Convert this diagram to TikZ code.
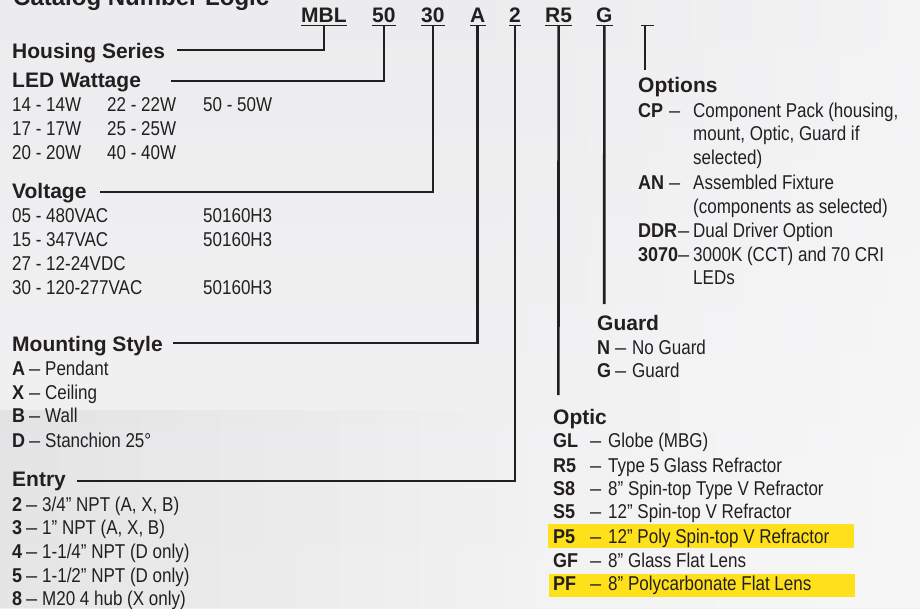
\documentclass[tikz,border=0pt]{standalone}
\usepackage{fontspec}
\usetikzlibrary{fadings}
\setmainfont{Liberation Sans}
\newfontfamily\bodyfont[FakeStretch=0.85]{Liberation Sans}
\newfontfamily\codefont[FakeStretch=0.9]{Liberation Sans}
\definecolor{ink}{HTML}{231F20}
\definecolor{hl}{HTML}{FFE11B}
\definecolor{bgtop}{HTML}{ECECEE}
\definecolor{bgbot}{HTML}{F3F2F3}
\newcommand\cdx[1]{{\codefont\bfseries\fontsize{20}{20}\selectfont #1}}
\newcommand\dsh{{\normalfont\fontsize{20}{20}\selectfont –}}
\newcommand\erow[4]{\makebox[#1][l]{\cdx{#3}}\makebox[#2][l]{\dsh}#4}
\begin{document}
\begin{tikzpicture}[x=1pt,y=-1pt,
  every node/.style={inner sep=0pt, anchor=base west, text=ink},
  hdr/.style={font=\fontsize{21}{21}\selectfont\bfseries},
  ttl/.style={font=\fontsize{24}{24}\selectfont\bfseries},
  body/.style={font=\bodyfont\fontsize{20}{20}\selectfont},
  code/.style={font=\fontsize{21}{21}\selectfont\bfseries},
  conn/.style={draw=ink, line width=2.6pt},
  uline/.style={draw=ink, line width=1.6pt},
  thinline/.style={draw=ink, line width=1.7pt},
  hlbox/.style={fill=hl, draw=none}]
\useasboundingbox (0,0) rectangle (920,608);
% background
\shade[top color=bgtop, bottom color=bgbot] (0,0) rectangle (920,608);
\fill[white, opacity=0.4, path fading=west] (440,0) rectangle (920,608);
\fill[black, opacity=0.05, path fading=east] (0,410) rectangle (520,608);
% highlights
\fill[hlbox] (548,524) rectangle (854,548);
\fill[hlbox] (549,574) rectangle (855,597);
% title
\node[ttl] (title) at (13,5) {Catalog Number Logic};
% codes
\node[code] (mbl) at (301,22.5) {MBL};
\node[code] (w50) at (372,22.5) {50};
\node[code] (v30) at (421,22.5) {30};
\node[code] (ma) at (470,22.5) {A};
\node[code] (e2) at (509,22.5) {2};
\node[code] (r5) at (545,22.5) {R5};
\node[code] (gg) at (596,22.5) {G};
\foreach \n in {mbl,w50,v30,ma,e2,r5,gg}
  \draw[uline] ([yshift=-3pt]\n.base west) -- ([yshift=-3pt]\n.base east);
% options placeholder
\coordinate (optL) at (641,25.5);
\coordinate (optR) at (654,25.5);
\coordinate (optTop) at (645,25.5);
\coordinate (optEnd) at (645,70);
\draw[uline] (optL) -- (optR);
\draw[thinline] (optTop) -- (optEnd);
% left headers
\node[hdr] (housing) at (12,58) {Housing Series};
\node[hdr] (led) at (12,87) {LED Wattage};
\node[body] (w1a) at (12,111) {14 - 14W};
\node[body] (w1b) at (107,111) {22 - 22W};
\node[body] (w1c) at (203,111) {50 - 50W};
\node[body] (w2a) at (12,135) {17 - 17W};
\node[body] (w2b) at (107,135) {25 - 25W};
\node[body] (w3a) at (12,159) {20 - 20W};
\node[body] (w3b) at (107,159) {40 - 40W};
\node[hdr] (volt) at (12,198) {Voltage};
\node[body] (v1a) at (12,222) {05 - 480VAC};
\node[body] (v1b) at (203,222) {50160H3};
\node[body] (v2a) at (12,246) {15 - 347VAC};
\node[body] (v2b) at (203,246) {50160H3};
\node[body] (v3a) at (12,270) {27 - 12-24VDC};
\node[body] (v4a) at (12,294) {30 - 120-277VAC};
\node[body] (v4b) at (203,294) {50160H3};
\node[hdr] (mount) at (12,351) {Mounting Style};
\node[body] (m1) at (12,375) {\erow{17pt}{16pt}{A}{Pendant}};
\node[body] (m2) at (12,399) {\erow{17pt}{16pt}{X}{Ceiling}};
\node[body] (m3) at (12,422) {\erow{17pt}{16pt}{B}{Wall}};
\node[body] (m4) at (12,447) {\erow{17pt}{16pt}{D}{Stanchion 25°}};
\node[hdr] (entry) at (12,486) {Entry};
\node[body] (en1) at (12,511) {\erow{14pt}{16pt}{2}{3/4” NPT (A, X, B)}};
\node[body] (en2) at (12,534) {\erow{14pt}{16pt}{3}{1” NPT (A, X, B)}};
\node[body] (en3) at (12,558) {\erow{14pt}{16pt}{4}{1-1/4” NPT (D only)}};
\node[body] (en4) at (12,582) {\erow{14pt}{16pt}{5}{1-1/2” NPT (D only)}};
\node[body] (en5) at (12,605) {\erow{14pt}{16pt}{8}{M20 4 hub (X only)}};
% right side
\node[hdr] (opts) at (638,92) {Options};
\node[body] (o1) at (638,117) {\erow{31pt}{24pt}{CP}{Component Pack (housing,}};
\node[body] (o1b) at (693,140) {mount, Optic, Guard if};
\node[body] (o1c) at (693,164) {selected)};
\node[body] (o2) at (638,189) {\erow{31pt}{24pt}{AN}{Assembled Fixture}};
\node[body] (o2b) at (693,213) {(components as selected)};
\node[body] (o3) at (638,237) {\erow{40pt}{15pt}{DDR}{Dual Driver Option}};
\node[body] (o4) at (638,261) {\erow{40pt}{15pt}{3070}{3000K (CCT) and 70 CRI}};
\node[body] (o4b) at (693,284) {LEDs};
\node[hdr] (guard) at (597,330) {Guard};
\node[body] (g1) at (597,354) {\erow{18pt}{17pt}{N}{No Guard}};
\node[body] (g2) at (597,377) {\erow{18pt}{17pt}{G}{Guard}};
\node[hdr] (optic) at (553,424) {Optic};
\node[body] (p1) at (553,447) {\erow{37pt}{18pt}{GL}{Globe (MBG)}};
\node[body] (p2) at (553,472) {\erow{37pt}{18pt}{R5}{Type 5 Glass Refractor}};
\node[body] (p3) at (553,495) {\erow{37pt}{18pt}{S8}{8” Spin-top Type V Refractor}};
\node[body] (p4) at (553,518) {\erow{37pt}{18pt}{S5}{12” Spin-top V Refractor}};
\node[body] (p5) at (553,543) {\erow{37pt}{18pt}{P5}{12” Poly Spin-top V Refractor}};
\node[body] (p6) at (553,567) {\erow{37pt}{18pt}{GF}{8” Glass Flat Lens}};
\node[body] (p7) at (553,590) {\erow{37pt}{18pt}{PF}{8” Polycarbonate Flat Lens}};
% connector end points
\coordinate (hsEnd) at (177,50);
\coordinate (ledEnd) at (171,81);
\coordinate (voltEnd) at (100,192);
\coordinate (mountEnd) at (173,343);
\coordinate (entryEnd) at (77,481);
\coordinate (r5End) at (558.4,395);
\coordinate (gEnd) at (604.2,304);
% connectors
\draw[conn] ([yshift=-3pt]mbl.base) |- (hsEnd);
\draw[conn] ([yshift=-3pt]w50.base) |- (ledEnd);
\draw[conn] ([yshift=-3pt]v30.base) |- (voltEnd);
\draw[conn] ([yshift=-3pt]ma.base) |- (mountEnd);
\draw[conn] ([yshift=-3pt]e2.base) |- (entryEnd);
\draw[conn] ([yshift=-3pt]r5.base) -- (r5End);
\draw[conn] ([yshift=-3pt]gg.base) -- (gEnd);
\end{tikzpicture}
\end{document}
